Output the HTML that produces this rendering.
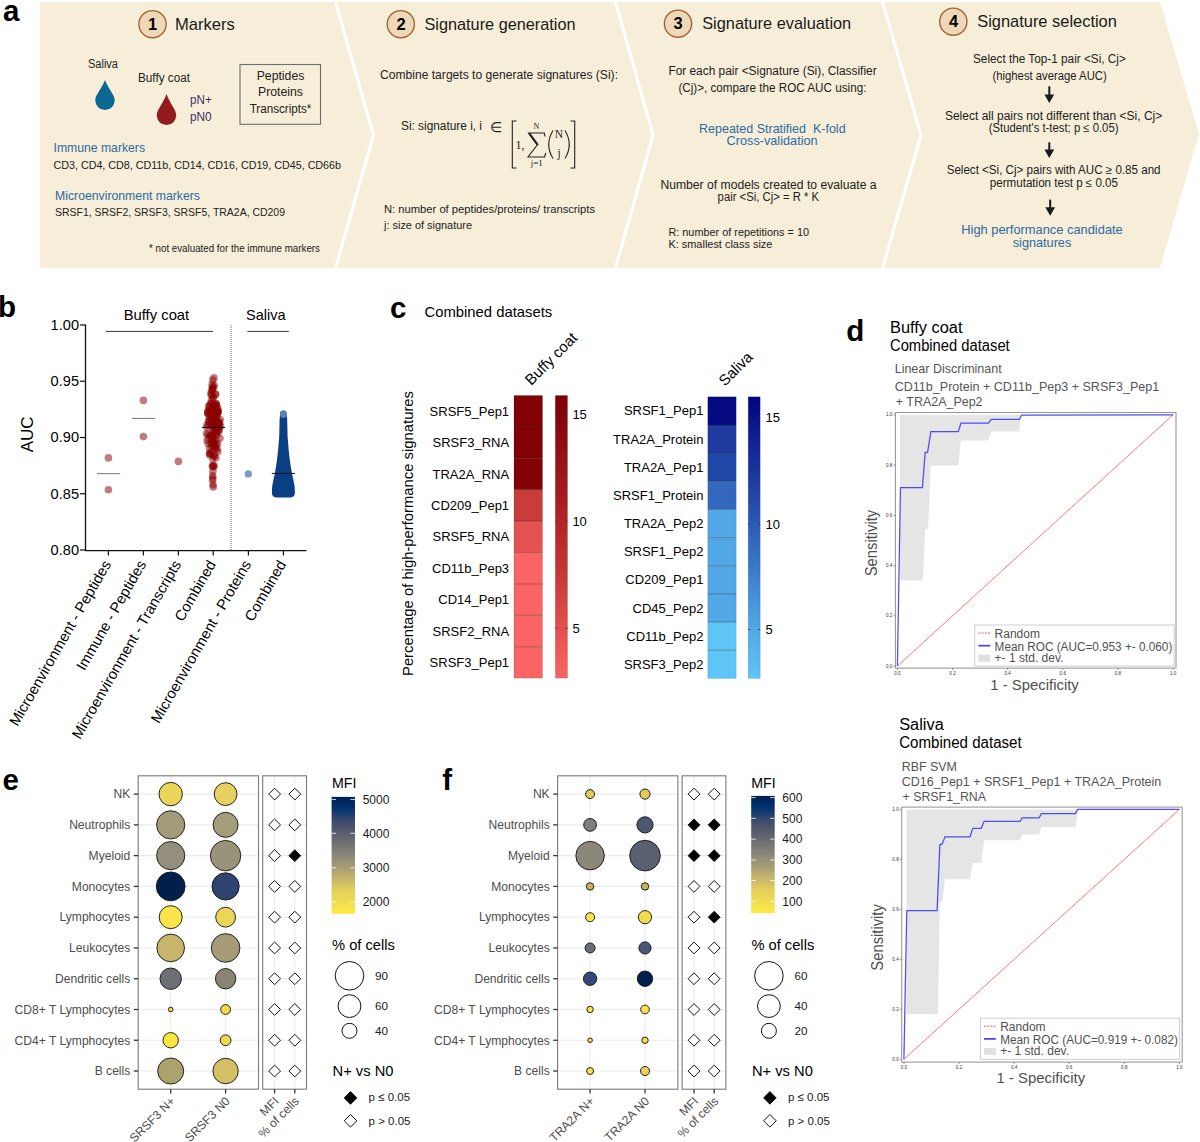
<!DOCTYPE html>
<html><head><meta charset="utf-8"><title>Figure</title>
<style>html,body{margin:0;padding:0;background:#fff;}body{width:1200px;height:1142px;overflow:hidden;}svg{display:block;font-family:"Liberation Sans",sans-serif;}</style>
</head><body>
<svg width="1200" height="1142" viewBox="0 0 1200 1142">
<rect width="1200" height="1142" fill="#fff"/>
<polygon points="40.0,2.0 333.9,2.0 371.9,135.0 333.9,268.0 40.0,268.0" fill="#f6eed8" />
<polygon points="337.1,2.0 613.9,2.0 651.4,135.0 613.9,268.0 337.1,268.0 375.1,135.0" fill="#f6eed8" />
<polygon points="617.1,2.0 880.9,2.0 919.4,135.0 880.9,268.0 617.1,268.0 654.6,135.0" fill="#f6eed8" />
<polygon points="884.1,2.0 1160.0,2.0 1199.0,134.0 1160.0,268.0 884.1,268.0 922.6,135.0" fill="#f6eed8" />
<text x="3.00" y="20.80" font-size="29.5" fill="#000" font-weight="bold" >a</text>
<circle cx="152.5" cy="24.2" r="13.6" fill="#efd8b7" stroke="#a0653a" stroke-width="1.4"/>
<text x="152.70" y="29.60" font-size="16.5" text-anchor="middle" font-weight="bold" >1</text>
<text x="175.00" y="29.70" font-size="16.2" fill="#1a1a1a" textLength="59.9" lengthAdjust="spacingAndGlyphs" >Markers</text>
<circle cx="400.8" cy="24.2" r="13.6" fill="#efd8b7" stroke="#a0653a" stroke-width="1.4"/>
<text x="401.00" y="29.60" font-size="16.5" text-anchor="middle" font-weight="bold" >2</text>
<text x="424.50" y="29.70" font-size="16.2" fill="#1a1a1a" textLength="151.0" lengthAdjust="spacingAndGlyphs" >Signature generation</text>
<circle cx="678.0" cy="23.7" r="13.6" fill="#efd8b7" stroke="#a0653a" stroke-width="1.4"/>
<text x="678.20" y="29.10" font-size="16.5" text-anchor="middle" font-weight="bold" >3</text>
<text x="702.20" y="29.20" font-size="16.2" fill="#1a1a1a" textLength="149.0" lengthAdjust="spacingAndGlyphs" >Signature evaluation</text>
<circle cx="953.3" cy="21.7" r="13.6" fill="#efd8b7" stroke="#a0653a" stroke-width="1.4"/>
<text x="953.50" y="27.10" font-size="16.5" text-anchor="middle" font-weight="bold" >4</text>
<text x="977.20" y="27.00" font-size="16.2" fill="#1a1a1a" textLength="139.7" lengthAdjust="spacingAndGlyphs" >Signature selection</text>
<text x="88.00" y="67.50" font-size="12.48" fill="#222" textLength="30.0" lengthAdjust="spacingAndGlyphs" >Saliva</text>
<text x="138.00" y="82.00" font-size="12.48" fill="#222" textLength="52.0" lengthAdjust="spacingAndGlyphs" >Buffy coat</text>
<path d="M105,80 C108.4125,89.1125 114.75,94.8875 114.75,100.25 A9.75,9.75 0 0 1 95.25,100.25 C95.25,94.8875 101.5875,89.1125 105,80 Z" fill="#0b6893"/>
<path d="M166.5,94 C169.9125,103.5625 176.25,109.8875 176.25,115.25 A9.75,9.75 0 0 1 156.75,115.25 C156.75,109.8875 163.0875,103.5625 166.5,94 Z" fill="#931b1e"/>
<text x="190.00" y="104.30" font-size="12.48" fill="#3a2f6c" textLength="21.7" lengthAdjust="spacingAndGlyphs" >pN+</text>
<text x="190.00" y="121.00" font-size="12.48" fill="#3a2f6c" textLength="21.7" lengthAdjust="spacingAndGlyphs" >pN0</text>
<rect x="240" y="64.5" width="80.5" height="59.8" fill="none" stroke="#6b6e78" stroke-width="1.1"/>
<text x="280.50" y="80.00" font-size="12.27" text-anchor="middle" fill="#222" >Peptides</text>
<text x="280.50" y="96.30" font-size="12.27" text-anchor="middle" fill="#222" >Proteins</text>
<text x="280.50" y="113.00" font-size="12.27" text-anchor="middle" fill="#222" textLength="61.7" lengthAdjust="spacingAndGlyphs" >Transcripts*</text>
<text x="53.50" y="152.00" font-size="12.69" fill="#2d6aa3" textLength="91.5" lengthAdjust="spacingAndGlyphs" >Immune markers</text>
<text x="53.50" y="168.75" font-size="11.44" fill="#222" textLength="287.5" lengthAdjust="spacingAndGlyphs" >CD3, CD4, CD8, CD11b, CD14, CD16, CD19, CD45, CD66b</text>
<text x="55.00" y="199.50" font-size="12.69" fill="#2d6aa3" textLength="145.0" lengthAdjust="spacingAndGlyphs" >Microenvironment markers</text>
<text x="55.00" y="216.00" font-size="11.44" fill="#222" textLength="230.0" lengthAdjust="spacingAndGlyphs" >SRSF1, SRSF2, SRSF3, SRSF5, TRA2A, CD209</text>
<text x="149.00" y="251.70" font-size="10.4" fill="#222" textLength="171.0" lengthAdjust="spacingAndGlyphs" >* not evaluated for the immune markers</text>
<text x="380.00" y="79.20" font-size="12.48" fill="#222" textLength="238.0" lengthAdjust="spacingAndGlyphs" >Combine targets to generate signatures (Si):</text>
<text x="401.00" y="129.80" font-size="12.48" fill="#222" textLength="81.0" lengthAdjust="spacingAndGlyphs" >Si: signature i, i</text>
<text x="490.00" y="131.50" font-size="14.04" fill="#222" >∈</text>
<path d="M516.5,121 h-4.2 v47 h4.2" fill="none" stroke="#222" stroke-width="1.1"/>
<path d="M570.5,121 h4.2 v47 h-4.2" fill="none" stroke="#222" stroke-width="1.1"/>
<text x="515.50" y="148.50" font-size="12" font-family="Liberation Serif" fill="#222" >1,</text>
<path d="M545,136.5 L544.3,133 L528.5,133 L537.2,145 L528,157 L544.5,157 L545.8,152.8" fill="none" stroke="#222" stroke-width="1.1" stroke-linejoin="miter"/>
<path d="M529.3,133.3 L537.9,145" stroke="#222" stroke-width="2"/>
<text x="536.30" y="128.80" font-size="8" font-family="Liberation Serif" text-anchor="middle" fill="#222" >N</text>
<text x="536.80" y="165.50" font-size="9" font-family="Liberation Serif" text-anchor="middle" fill="#222" >j=1</text>
<path d="M553,130.5 Q544.5,144.5 553,158.5" fill="none" stroke="#222" stroke-width="1.1"/>
<path d="M565,130.5 Q573.5,144.5 565,158.5" fill="none" stroke="#222" stroke-width="1.1"/>
<text x="559.00" y="137.60" font-size="11.5" font-family="Liberation Serif" text-anchor="middle" fill="#222" >N</text>
<text x="559.00" y="156.50" font-size="11.5" font-family="Liberation Serif" text-anchor="middle" fill="#222" >j</text>
<text x="384.00" y="212.90" font-size="11.65" fill="#222" textLength="211.0" lengthAdjust="spacingAndGlyphs" >N: number of peptides/proteins/ transcripts</text>
<text x="384.00" y="228.50" font-size="11.65" fill="#222" textLength="88.0" lengthAdjust="spacingAndGlyphs" >j: size of signature</text>
<text x="772.50" y="74.60" font-size="12.27" text-anchor="middle" fill="#222" textLength="208.2" lengthAdjust="spacingAndGlyphs" >For each pair &lt;Signature (Si), Classifier</text>
<text x="772.40" y="92.00" font-size="12.27" text-anchor="middle" fill="#222" textLength="188.0" lengthAdjust="spacingAndGlyphs" >(Cj)&gt;, compare the ROC AUC using:</text>
<text x="772.30" y="132.60" font-size="12.9" text-anchor="middle" fill="#2d6aa3" textLength="146.6" lengthAdjust="spacingAndGlyphs" >Repeated Stratified  K-fold</text>
<text x="772.10" y="145.40" font-size="12.9" text-anchor="middle" fill="#2d6aa3" textLength="91.0" lengthAdjust="spacingAndGlyphs" >Cross-validation</text>
<text x="768.50" y="189.40" font-size="12.48" text-anchor="middle" fill="#222" textLength="216.2" lengthAdjust="spacingAndGlyphs" >Number of models created to evaluate a</text>
<text x="768.30" y="201.40" font-size="12.48" text-anchor="middle" fill="#222" textLength="101.4" lengthAdjust="spacingAndGlyphs" >pair &lt;Si, Cj&gt; = R * K</text>
<text x="668.40" y="236.00" font-size="11.34" fill="#222" textLength="140.6" lengthAdjust="spacingAndGlyphs" >R: number of repetitions = 10</text>
<text x="668.40" y="248.00" font-size="11.34" fill="#222" textLength="104.0" lengthAdjust="spacingAndGlyphs" >K: smallest class size</text>
<text x="1049.40" y="62.50" font-size="12.27" text-anchor="middle" fill="#222" textLength="152.8" lengthAdjust="spacingAndGlyphs" >Select the Top-1 pair &lt;Si, Cj&gt;</text>
<text x="1049.60" y="79.60" font-size="12.27" text-anchor="middle" fill="#222" textLength="114.2" lengthAdjust="spacingAndGlyphs" >(highest average AUC)</text>
<text x="1053.60" y="119.60" font-size="12.27" text-anchor="middle" fill="#222" textLength="217.3" lengthAdjust="spacingAndGlyphs" >Select all pairs not different than &lt;Si, Cj&gt;</text>
<text x="1053.60" y="131.70" font-size="12.27" text-anchor="middle" fill="#222" textLength="129.7" lengthAdjust="spacingAndGlyphs" >(Student's t-test; p ≤ 0.05)</text>
<text x="1053.60" y="174.20" font-size="12.27" text-anchor="middle" fill="#222" textLength="213.9" lengthAdjust="spacingAndGlyphs" >Select &lt;Si, Cj&gt; pairs with AUC ≥ 0.85 and</text>
<text x="1053.90" y="186.70" font-size="12.27" text-anchor="middle" fill="#222" textLength="128.2" lengthAdjust="spacingAndGlyphs" >permutation test p ≤ 0.05</text>
<text x="1042.00" y="233.50" font-size="13.21" text-anchor="middle" fill="#2d6aa3" textLength="161.5" lengthAdjust="spacingAndGlyphs" >High performance candidate</text>
<text x="1042.00" y="246.50" font-size="13.21" text-anchor="middle" fill="#2d6aa3" textLength="58.5" lengthAdjust="spacingAndGlyphs" >signatures</text>
<path d="M1049.3,86.3 V96" stroke="#1a1a1a" stroke-width="2"/>
<path d="M1044.3999999999999,94.5 L1054.2,94.5 L1049.3,103 Z" fill="#1a1a1a"/>
<path d="M1049.3,142.3 V151" stroke="#1a1a1a" stroke-width="2"/>
<path d="M1044.3999999999999,149.5 L1054.2,149.5 L1049.3,158 Z" fill="#1a1a1a"/>
<path d="M1050.2,199.6 V208.8" stroke="#1a1a1a" stroke-width="2"/>
<path d="M1045.3,207.3 L1055.1000000000001,207.3 L1050.2,215.8 Z" fill="#1a1a1a"/>
<text x="-2.00" y="317.00" font-size="29.5" fill="#000" font-weight="bold" >b</text>
<path d="M85.5,324.4 V550.6 H306.5" fill="none" stroke="#111" stroke-width="1.3"/>
<path d="M80,325.00 H85.5" stroke="#111" stroke-width="1.2"/>
<text x="79.00" y="329.90" font-size="14.6" text-anchor="end" >1.00</text>
<path d="M80,381.25 H85.5" stroke="#111" stroke-width="1.2"/>
<text x="79.00" y="386.15" font-size="14.6" text-anchor="end" >0.95</text>
<path d="M80,437.50 H85.5" stroke="#111" stroke-width="1.2"/>
<text x="79.00" y="442.40" font-size="14.6" text-anchor="end" >0.90</text>
<path d="M80,493.75 H85.5" stroke="#111" stroke-width="1.2"/>
<text x="79.00" y="498.65" font-size="14.6" text-anchor="end" >0.85</text>
<path d="M80,550.00 H85.5" stroke="#111" stroke-width="1.2"/>
<text x="79.00" y="554.90" font-size="14.6" text-anchor="end" >0.80</text>
<path d="M108.4,550 V555.5" stroke="#111" stroke-width="1.2"/>
<path d="M143.4,550 V555.5" stroke="#111" stroke-width="1.2"/>
<path d="M178.4,550 V555.5" stroke="#111" stroke-width="1.2"/>
<path d="M213.2,550 V555.5" stroke="#111" stroke-width="1.2"/>
<path d="M248.4,550 V555.5" stroke="#111" stroke-width="1.2"/>
<path d="M283.4,550 V555.5" stroke="#111" stroke-width="1.2"/>
<text x="111.60" y="564.00" font-size="14.8" text-anchor="end" transform="rotate(-60 111.60 564.00)" >Microenvironment - Peptides</text>
<text x="146.60" y="564.00" font-size="14.8" text-anchor="end" transform="rotate(-60 146.60 564.00)" >Immune - Peptides</text>
<text x="181.60" y="564.00" font-size="14.8" text-anchor="end" transform="rotate(-60 181.60 564.00)" >Microenvironment - Transcripts</text>
<text x="216.40" y="564.00" font-size="14.8" text-anchor="end" transform="rotate(-60 216.40 564.00)" >Combined</text>
<text x="251.60" y="564.00" font-size="14.8" text-anchor="end" transform="rotate(-60 251.60 564.00)" >Microenvironment - Proteins</text>
<text x="286.60" y="564.00" font-size="14.8" text-anchor="end" transform="rotate(-60 286.60 564.00)" >Combined</text>
<text x="33.00" y="434.30" font-size="17" text-anchor="middle" transform="rotate(-90 33.00 434.30)" >AUC</text>
<text x="123.70" y="319.60" font-size="14.8" textLength="65.5" lengthAdjust="spacingAndGlyphs" >Buffy coat</text>
<text x="246.00" y="319.60" font-size="14.8" textLength="39.7" lengthAdjust="spacingAndGlyphs" >Saliva</text>
<path d="M106,331.4 H213 M247.4,331.4 H288.8" stroke="#333" stroke-width="1"/>
<path d="M231,325 V550" stroke="#555" stroke-width="0.9" stroke-dasharray="1,1"/>
<circle cx="108.4" cy="457.9" r="3.8" fill="#c27b80"/>
<circle cx="108.4" cy="489.8" r="3.8" fill="#c27b80"/>
<circle cx="143.4" cy="400.4" r="3.8" fill="#c27b80"/>
<circle cx="143.4" cy="436.6" r="3.8" fill="#c27b80"/>
<circle cx="178.4" cy="461.4" r="3.8" fill="#c27b80"/>
<path d="M97,473.7 H120.2 M132,418.4 H155.2" stroke="#777" stroke-width="1"/>
<g fill="#8b0000" fill-opacity="0.5"><circle cx="214.01" cy="377.88" r="3.8"/><circle cx="212.73" cy="380.13" r="3.8"/><circle cx="212.05" cy="384.63" r="3.8"/><circle cx="213.01" cy="484.75" r="3.8"/><circle cx="213.24" cy="487.00" r="3.8"/><circle cx="212.60" cy="480.25" r="3.8"/><circle cx="212.63" cy="475.75" r="3.8"/><circle cx="212.93" cy="471.25" r="3.8"/><circle cx="213.57" cy="466.75" r="3.8"/><circle cx="210.32" cy="453.54" r="3.8"/><circle cx="211.38" cy="419.30" r="3.8"/><circle cx="216.88" cy="406.11" r="3.8"/><circle cx="219.91" cy="438.34" r="3.8"/><circle cx="214.43" cy="455.78" r="3.8"/><circle cx="216.21" cy="428.78" r="3.8"/><circle cx="214.43" cy="417.16" r="3.8"/><circle cx="210.32" cy="403.90" r="3.8"/><circle cx="209.50" cy="453.36" r="3.8"/><circle cx="209.67" cy="455.01" r="3.8"/><circle cx="218.07" cy="412.29" r="3.8"/><circle cx="215.98" cy="417.24" r="3.8"/><circle cx="215.59" cy="394.59" r="3.8"/><circle cx="208.86" cy="406.37" r="3.8"/><circle cx="215.37" cy="429.55" r="3.8"/><circle cx="213.04" cy="433.24" r="3.8"/><circle cx="216.71" cy="433.55" r="3.8"/><circle cx="211.16" cy="444.15" r="3.8"/><circle cx="217.71" cy="451.71" r="3.8"/><circle cx="206.91" cy="425.33" r="3.8"/><circle cx="213.99" cy="424.27" r="3.8"/><circle cx="216.76" cy="434.75" r="3.8"/><circle cx="219.38" cy="428.70" r="3.8"/><circle cx="216.73" cy="421.54" r="3.8"/><circle cx="215.69" cy="412.58" r="3.8"/><circle cx="215.73" cy="403.93" r="3.8"/><circle cx="219.41" cy="422.89" r="3.8"/><circle cx="212.70" cy="465.63" r="3.8"/><circle cx="215.46" cy="412.38" r="3.8"/><circle cx="215.91" cy="457.72" r="3.8"/><circle cx="218.90" cy="431.04" r="3.8"/><circle cx="212.79" cy="458.88" r="3.8"/><circle cx="217.71" cy="427.33" r="3.8"/><circle cx="217.62" cy="444.02" r="3.8"/><circle cx="214.37" cy="422.80" r="3.8"/><circle cx="215.20" cy="428.41" r="3.8"/><circle cx="212.07" cy="409.37" r="3.8"/><circle cx="213.90" cy="455.66" r="3.8"/><circle cx="214.91" cy="433.53" r="3.8"/><circle cx="208.27" cy="413.21" r="3.8"/><circle cx="215.42" cy="429.36" r="3.8"/><circle cx="220.20" cy="419.46" r="3.8"/><circle cx="219.01" cy="425.17" r="3.8"/><circle cx="215.58" cy="448.88" r="3.8"/><circle cx="211.88" cy="415.32" r="3.8"/><circle cx="216.03" cy="444.73" r="3.8"/><circle cx="213.55" cy="387.37" r="3.8"/><circle cx="212.48" cy="438.17" r="3.8"/><circle cx="217.29" cy="412.71" r="3.8"/><circle cx="206.98" cy="427.32" r="3.8"/><circle cx="215.69" cy="407.02" r="3.8"/><circle cx="207.09" cy="440.25" r="3.8"/><circle cx="214.22" cy="406.02" r="3.8"/><circle cx="213.01" cy="430.02" r="3.8"/><circle cx="211.44" cy="400.37" r="3.8"/><circle cx="215.74" cy="414.03" r="3.8"/><circle cx="213.26" cy="424.35" r="3.8"/><circle cx="214.66" cy="444.05" r="3.8"/><circle cx="217.97" cy="410.96" r="3.8"/><circle cx="210.03" cy="417.37" r="3.8"/><circle cx="211.21" cy="392.28" r="3.8"/><circle cx="210.42" cy="435.43" r="3.8"/><circle cx="215.58" cy="415.52" r="3.8"/><circle cx="209.40" cy="416.52" r="3.8"/><circle cx="208.54" cy="421.33" r="3.8"/><circle cx="219.27" cy="422.92" r="3.8"/><circle cx="215.67" cy="423.48" r="3.8"/><circle cx="212.53" cy="440.17" r="3.8"/><circle cx="217.18" cy="449.06" r="3.8"/><circle cx="210.81" cy="435.85" r="3.8"/><circle cx="215.38" cy="414.75" r="3.8"/><circle cx="211.77" cy="395.07" r="3.8"/><circle cx="212.66" cy="406.49" r="3.8"/><circle cx="215.95" cy="404.86" r="3.8"/><circle cx="217.87" cy="410.76" r="3.8"/><circle cx="217.75" cy="412.45" r="3.8"/><circle cx="211.59" cy="423.46" r="3.8"/><circle cx="214.22" cy="410.88" r="3.8"/><circle cx="212.65" cy="389.46" r="3.8"/><circle cx="207.96" cy="434.38" r="3.8"/><circle cx="213.26" cy="442.21" r="3.8"/><circle cx="214.22" cy="385.48" r="3.8"/><circle cx="218.39" cy="422.14" r="3.8"/><circle cx="215.28" cy="406.62" r="3.8"/><circle cx="217.90" cy="408.70" r="3.8"/><circle cx="211.32" cy="451.65" r="3.8"/><circle cx="212.13" cy="389.42" r="3.8"/><circle cx="212.57" cy="423.59" r="3.8"/><circle cx="210.77" cy="411.29" r="3.8"/><circle cx="209.02" cy="424.66" r="3.8"/><circle cx="212.35" cy="446.27" r="3.8"/><circle cx="215.21" cy="429.77" r="3.8"/><circle cx="213.21" cy="419.38" r="3.8"/><circle cx="211.80" cy="403.52" r="3.8"/><circle cx="217.23" cy="412.21" r="3.8"/><circle cx="220.58" cy="426.10" r="3.8"/><circle cx="213.01" cy="398.42" r="3.8"/><circle cx="208.18" cy="443.64" r="3.8"/><circle cx="208.19" cy="410.43" r="3.8"/><circle cx="216.34" cy="403.60" r="3.8"/><circle cx="206.52" cy="433.62" r="3.8"/><circle cx="214.14" cy="465.65" r="3.8"/><circle cx="214.06" cy="446.75" r="3.8"/><circle cx="210.51" cy="422.31" r="3.8"/><circle cx="217.09" cy="416.09" r="3.8"/><circle cx="210.97" cy="394.28" r="3.8"/><circle cx="209.66" cy="448.84" r="3.8"/><circle cx="212.61" cy="427.33" r="3.8"/><circle cx="207.56" cy="413.51" r="3.8"/><circle cx="218.29" cy="430.75" r="3.8"/><circle cx="212.83" cy="478.03" r="3.8"/><circle cx="209.42" cy="410.14" r="3.8"/><circle cx="209.19" cy="405.91" r="3.8"/><circle cx="214.69" cy="446.99" r="3.8"/><circle cx="212.53" cy="436.19" r="3.8"/><circle cx="215.21" cy="422.63" r="3.8"/><circle cx="215.21" cy="414.18" r="3.8"/><circle cx="217.91" cy="424.95" r="3.8"/><circle cx="215.50" cy="394.08" r="3.8"/><circle cx="216.10" cy="429.12" r="3.8"/><circle cx="212.35" cy="387.59" r="3.8"/><circle cx="212.99" cy="442.02" r="3.8"/><circle cx="208.81" cy="437.52" r="3.8"/><circle cx="207.67" cy="411.97" r="3.8"/><circle cx="213.14" cy="396.93" r="3.8"/><circle cx="215.88" cy="413.40" r="3.8"/><circle cx="208.70" cy="420.93" r="3.8"/><circle cx="212.42" cy="466.31" r="3.8"/><circle cx="211.39" cy="442.61" r="3.8"/><circle cx="215.89" cy="440.43" r="3.8"/><circle cx="213.58" cy="438.78" r="3.8"/></g>
<path d="M202,427.5 H225.1" stroke="#111" stroke-width="1"/>
<circle cx="248.3" cy="473.9" r="3.7" fill="#7b9cc4"/>
<path d="M283.4,410.5 L294.60,495.00 L294.90,492.00 L294.60,486.00 L293.40,480.00 L292.00,473.50 L290.70,466.00 L289.70,459.00 L288.70,450.00 L287.60,437.00 L287.20,420.00 L286.80,413.80 Z" fill="none"/>
<path d="M280.09999999999997,413.8 A3.3,3.3 0 0 1 286.7,413.8 L287.20,420.00 L287.60,437.00 L288.70,450.00 L289.70,459.00 L290.70,466.00 L292.00,473.50 L293.40,480.00 L294.60,486.00 L294.90,492.00 L294.60,495.00 Q293.4,497.6 290.4,497.4 L276.4,497.4 Q273.4,497.6 272.20,495.00 L271.90,492.00 L272.20,486.00 L273.40,480.00 L274.80,473.50 L276.10,466.00 L277.10,459.00 L278.10,450.00 L279.20,437.00 L279.60,420.00 Z" fill="#0b3f84"/>
<circle cx="283.4" cy="414.5" r="3.4" fill="#6f92c4" fill-opacity="0.8"/>
<path d="M271.8,473.4 H295" stroke="#111" stroke-width="1"/>
<text x="390.00" y="318.30" font-size="29.5" fill="#000" font-weight="bold" >c</text>
<text x="424.50" y="316.70" font-size="14.8" textLength="127.7" lengthAdjust="spacingAndGlyphs" >Combined datasets</text>
<text x="531.30" y="385.90" font-size="15.2" textLength="66.5" lengthAdjust="spacingAndGlyphs" transform="rotate(-45 531.30 385.90)" >Buffy coat</text>
<text x="725.00" y="386.80" font-size="15.2" textLength="40.5" lengthAdjust="spacingAndGlyphs" transform="rotate(-45 725.00 386.80)" >Saliva</text>
<text x="413.00" y="533.50" font-size="14.8" text-anchor="middle" textLength="285.0" lengthAdjust="spacingAndGlyphs" transform="rotate(-90 413.00 533.50)" >Percentage of high-performance signatures</text>
<rect x="514" y="395.50" width="28.5" height="31.40" fill="#830005"/>
<text x="509.10" y="415.80" font-size="13" text-anchor="end" >SRSF5_Pep1</text>
<rect x="514" y="426.90" width="28.5" height="31.40" fill="#830005"/>
<text x="509.10" y="447.20" font-size="13" text-anchor="end" >SRSF3_RNA</text>
<rect x="514" y="458.30" width="28.5" height="31.40" fill="#830005"/>
<text x="509.10" y="478.60" font-size="13" text-anchor="end" >TRA2A_RNA</text>
<rect x="514" y="489.70" width="28.5" height="31.40" fill="#c83c3a"/>
<text x="509.10" y="510.00" font-size="13" text-anchor="end" >CD209_Pep1</text>
<rect x="514" y="521.10" width="28.5" height="31.40" fill="#e65252"/>
<text x="509.10" y="541.40" font-size="13" text-anchor="end" >SRSF5_RNA</text>
<rect x="514" y="552.50" width="28.5" height="31.40" fill="#fa6464"/>
<text x="509.10" y="572.80" font-size="13" text-anchor="end" >CD11b_Pep3</text>
<rect x="514" y="583.90" width="28.5" height="31.40" fill="#fa6464"/>
<text x="509.10" y="604.20" font-size="13" text-anchor="end" >CD14_Pep1</text>
<rect x="514" y="615.30" width="28.5" height="31.40" fill="#fa6464"/>
<text x="509.10" y="635.60" font-size="13" text-anchor="end" >SRSF2_RNA</text>
<rect x="514" y="646.70" width="28.5" height="31.40" fill="#fa6464"/>
<text x="509.10" y="667.00" font-size="13" text-anchor="end" >SRSF3_Pep1</text>
<g stroke="#000" stroke-opacity="0.3" stroke-width="1"><path d="M514,426.90 H542.5"/><path d="M514,458.30 H542.5"/><path d="M514,489.70 H542.5"/><path d="M514,521.10 H542.5"/><path d="M514,552.50 H542.5"/><path d="M514,583.90 H542.5"/><path d="M514,615.30 H542.5"/><path d="M514,646.70 H542.5"/></g>
<rect x="514" y="395.5" width="28.5" height="282.60" fill="none" stroke="#000" stroke-opacity="0.15" stroke-width="0.8"/>
<defs><linearGradient id="gred" x1="0" y1="0" x2="0" y2="1"><stop offset="0" stop-color="#7a0006"/><stop offset="0.35" stop-color="#a51c1e"/><stop offset="0.6" stop-color="#c43333"/><stop offset="1" stop-color="#f96666"/></linearGradient><linearGradient id="gblue" x1="0" y1="0" x2="0" y2="1"><stop offset="0" stop-color="#03037f"/><stop offset="0.3" stop-color="#1e3ca0"/><stop offset="0.6" stop-color="#3a78c8"/><stop offset="0.8" stop-color="#4ea4e2"/><stop offset="1" stop-color="#5fc5f7"/></linearGradient></defs>
<rect x="555.3" y="395.5" width="12.2" height="282.60" fill="url(#gred)" stroke="#000" stroke-opacity="0.15" stroke-width="0.8"/>
<path d="M555.3,414.5 h2 M567.5,414.5 h-2" stroke="#333" stroke-width="0.8"/>
<text x="572.40" y="419.10" font-size="13" >15</text>
<path d="M555.3,521.4 h2 M567.5,521.4 h-2" stroke="#333" stroke-width="0.8"/>
<text x="572.40" y="526.00" font-size="13" >10</text>
<path d="M555.3,628.4 h2 M567.5,628.4 h-2" stroke="#333" stroke-width="0.8"/>
<text x="572.40" y="633.00" font-size="13" >5</text>
<rect x="707.8" y="396.80" width="28.4" height="28.16" fill="#050a82"/>
<text x="703.40" y="415.48" font-size="13" text-anchor="end" >SRSF1_Pep1</text>
<rect x="707.8" y="424.96" width="28.4" height="28.16" fill="#1e3ca0"/>
<text x="703.40" y="443.64" font-size="13" text-anchor="end" >TRA2A_Protein</text>
<rect x="707.8" y="453.12" width="28.4" height="28.16" fill="#2048a8"/>
<text x="703.40" y="471.80" font-size="13" text-anchor="end" >TRA2A_Pep1</text>
<rect x="707.8" y="481.28" width="28.4" height="28.16" fill="#3269be"/>
<text x="703.40" y="499.96" font-size="13" text-anchor="end" >SRSF1_Protein</text>
<rect x="707.8" y="509.44" width="28.4" height="28.16" fill="#52a8e6"/>
<text x="703.40" y="528.12" font-size="13" text-anchor="end" >TRA2A_Pep2</text>
<rect x="707.8" y="537.60" width="28.4" height="28.16" fill="#52a8e6"/>
<text x="703.40" y="556.28" font-size="13" text-anchor="end" >SRSF1_Pep2</text>
<rect x="707.8" y="565.76" width="28.4" height="28.16" fill="#52a8e6"/>
<text x="703.40" y="584.44" font-size="13" text-anchor="end" >CD209_Pep1</text>
<rect x="707.8" y="593.92" width="28.4" height="28.16" fill="#52a8e6"/>
<text x="703.40" y="612.60" font-size="13" text-anchor="end" >CD45_Pep2</text>
<rect x="707.8" y="622.08" width="28.4" height="28.16" fill="#5fc5f7"/>
<text x="703.40" y="640.76" font-size="13" text-anchor="end" >CD11b_Pep2</text>
<rect x="707.8" y="650.24" width="28.4" height="28.16" fill="#5fc5f7"/>
<text x="703.40" y="668.92" font-size="13" text-anchor="end" >SRSF3_Pep2</text>
<g stroke="#000" stroke-opacity="0.3" stroke-width="1"><path d="M707.8,424.96 H736.2"/><path d="M707.8,453.12 H736.2"/><path d="M707.8,481.28 H736.2"/><path d="M707.8,509.44 H736.2"/><path d="M707.8,537.60 H736.2"/><path d="M707.8,565.76 H736.2"/><path d="M707.8,593.92 H736.2"/><path d="M707.8,622.08 H736.2"/><path d="M707.8,650.24 H736.2"/></g>
<rect x="707.8" y="396.8" width="28.4" height="281.60" fill="none" stroke="#000" stroke-opacity="0.15" stroke-width="0.8"/>
<rect x="748.2" y="396.8" width="12" height="281.60" fill="url(#gblue)" stroke="#000" stroke-opacity="0.15" stroke-width="0.8"/>
<path d="M748.2,417.6 h2 M760.2,417.6 h-2" stroke="#333" stroke-width="0.8"/>
<text x="765.50" y="422.20" font-size="13" >15</text>
<path d="M748.2,523.9 h2 M760.2,523.9 h-2" stroke="#333" stroke-width="0.8"/>
<text x="765.50" y="528.50" font-size="13" >10</text>
<path d="M748.2,629.5 h2 M760.2,629.5 h-2" stroke="#333" stroke-width="0.8"/>
<text x="765.50" y="634.10" font-size="13" >5</text>
<text x="846.30" y="341.00" font-size="29.5" fill="#000" font-weight="bold" >d</text>
<rect x="895.4" y="412.5" width="280.6" height="255.6" fill="#fff" stroke="#9a9a9a" stroke-width="1.1"/>
<polygon points="900.1,415.0 1021.5,415.0 1019.2,431.6 991.2,431.6 988.5,440.5 960.9,440.5 958.4,465.4 930.8,465.4 928.1,528.9 925.2,528.9 922.9,580.6 900.1,580.6" fill="#e5e5e5"/>
<path d="M897.4,666.1 L1173.1,414.8" stroke="#ff6a6a" stroke-width="0.9"/>
<path d="M897.4,666.1 L900.5,487.6 L922.4,487.6 L925.2,452.3 L927.6,452.3 L930.8,431.6 L958.3,431.6 L960.9,423.2 L988.5,423.2 L991.2,419.4 L1019.2,419.4 L1021.8,415.0 L1173.1,414.8" fill="none" stroke="#4d4df4" stroke-width="1.25"/>
<path d="M893.4,666.1 H895.4" stroke="#555" stroke-width="0.6"/>
<text x="892.40" y="667.70" font-size="4.6" text-anchor="end" fill="#333" >0.0</text>
<path d="M897.4,668.1 V670.1" stroke="#555" stroke-width="0.6"/>
<text x="897.40" y="674.80" font-size="4.6" text-anchor="middle" fill="#333" >0.0</text>
<path d="M893.4,615.8 H895.4" stroke="#555" stroke-width="0.6"/>
<text x="892.40" y="617.44" font-size="4.6" text-anchor="end" fill="#333" >0.2</text>
<path d="M952.5,668.1 V670.1" stroke="#555" stroke-width="0.6"/>
<text x="952.54" y="674.80" font-size="4.6" text-anchor="middle" fill="#333" >0.2</text>
<path d="M893.4,565.6 H895.4" stroke="#555" stroke-width="0.6"/>
<text x="892.40" y="567.18" font-size="4.6" text-anchor="end" fill="#333" >0.4</text>
<path d="M1007.7,668.1 V670.1" stroke="#555" stroke-width="0.6"/>
<text x="1007.68" y="674.80" font-size="4.6" text-anchor="middle" fill="#333" >0.4</text>
<path d="M893.4,515.3 H895.4" stroke="#555" stroke-width="0.6"/>
<text x="892.40" y="516.92" font-size="4.6" text-anchor="end" fill="#333" >0.6</text>
<path d="M1062.8,668.1 V670.1" stroke="#555" stroke-width="0.6"/>
<text x="1062.82" y="674.80" font-size="4.6" text-anchor="middle" fill="#333" >0.6</text>
<path d="M893.4,465.1 H895.4" stroke="#555" stroke-width="0.6"/>
<text x="892.40" y="466.66" font-size="4.6" text-anchor="end" fill="#333" >0.8</text>
<path d="M1118.0,668.1 V670.1" stroke="#555" stroke-width="0.6"/>
<text x="1117.96" y="674.80" font-size="4.6" text-anchor="middle" fill="#333" >0.8</text>
<path d="M893.4,414.8 H895.4" stroke="#555" stroke-width="0.6"/>
<text x="892.40" y="416.40" font-size="4.6" text-anchor="end" fill="#333" >1.0</text>
<path d="M1173.1,668.1 V670.1" stroke="#555" stroke-width="0.6"/>
<text x="1173.10" y="674.80" font-size="4.6" text-anchor="middle" fill="#333" >1.0</text>
<rect x="974.8" y="625" width="199.2" height="41.1" fill="#fff" fill-opacity="0.85" stroke="#cfcfcf" stroke-width="1"/>
<path d="M978.4,633 H990.3" stroke="#ff5050" stroke-width="1" stroke-dasharray="2,1.2"/>
<text x="994.60" y="637.60" font-size="12" fill="#505050" >Random</text>
<path d="M978.4,645.7 H990.3" stroke="#4a4af2" stroke-width="1.8"/>
<text x="994.60" y="650.50" font-size="12" fill="#505050" textLength="177.7" lengthAdjust="spacingAndGlyphs" >Mean ROC (AUC=0.953 +- 0.060)</text>
<rect x="978.4" y="654.8" width="11.9" height="7" fill="#e0e0e0"/>
<text x="994.60" y="661.80" font-size="12" fill="#505050" >+- 1 std. dev.</text>
<text x="877.30" y="543.00" font-size="15.6" text-anchor="middle" fill="#505050" textLength="66.5" lengthAdjust="spacingAndGlyphs" transform="rotate(-90 877.30 543.00)" >Sensitivity</text>
<text x="990.30" y="689.60" font-size="14.9" fill="#505050" textLength="88.5" lengthAdjust="spacingAndGlyphs" >1 - Specificity</text>
<text x="890.00" y="333.30" font-size="16" textLength="72.5" lengthAdjust="spacingAndGlyphs" >Buffy coat</text>
<text x="890.00" y="350.50" font-size="16" textLength="119.7" lengthAdjust="spacingAndGlyphs" >Combined dataset</text>
<text x="894.70" y="373.30" font-size="12.4" fill="#555" textLength="107.0" lengthAdjust="spacingAndGlyphs" >Linear Discriminant</text>
<text x="894.70" y="391.20" font-size="12.4" fill="#555" textLength="264.5" lengthAdjust="spacingAndGlyphs" >CD11b_Protein + CD11b_Pep3 + SRSF3_Pep1</text>
<text x="895.80" y="405.80" font-size="12.4" fill="#555" textLength="86.7" lengthAdjust="spacingAndGlyphs" >+ TRA2A_Pep2</text>
<rect x="901.7" y="807.1" width="280.5" height="255.0" fill="#fff" stroke="#9a9a9a" stroke-width="1.1"/>
<polygon points="906.5,809.4 1078.0,809.4 1075.4,826.9 1041.4,826.9 1039.1,834.6 1022.1,834.6 1020.1,840.2 984.1,840.2 981.3,862.9 972.8,862.9 970.0,879.3 945.0,879.3 942.2,902.6 939.9,902.6 937.9,1014.0 906.5,1014.0" fill="#e5e5e5"/>
<path d="M903.9,1059.3 L1179.4,809.4" stroke="#ff6a6a" stroke-width="0.9"/>
<path d="M903.9,1059.3 L906.8,910.6 L937.1,910.6 L939.9,844.8 L942.2,843.9 L945.0,836.8 L970.0,836.8 L972.8,828.3 L981.3,828.3 L984.1,821.3 L1020.1,821.3 L1022.1,817.9 L1039.1,817.9 L1041.4,813.6 L1075.4,813.6 L1077.6,809.4 L1179.4,809.4" fill="none" stroke="#4d4df4" stroke-width="1.25"/>
<path d="M899.7,1059.3 H901.7" stroke="#555" stroke-width="0.6"/>
<text x="898.70" y="1060.90" font-size="4.6" text-anchor="end" fill="#333" >0.0</text>
<path d="M903.9,1062.1 V1064.1" stroke="#555" stroke-width="0.6"/>
<text x="903.90" y="1068.80" font-size="4.6" text-anchor="middle" fill="#333" >0.0</text>
<path d="M899.7,1009.3 H901.7" stroke="#555" stroke-width="0.6"/>
<text x="898.70" y="1010.92" font-size="4.6" text-anchor="end" fill="#333" >0.2</text>
<path d="M959.0,1062.1 V1064.1" stroke="#555" stroke-width="0.6"/>
<text x="959.00" y="1068.80" font-size="4.6" text-anchor="middle" fill="#333" >0.2</text>
<path d="M899.7,959.3 H901.7" stroke="#555" stroke-width="0.6"/>
<text x="898.70" y="960.94" font-size="4.6" text-anchor="end" fill="#333" >0.4</text>
<path d="M1014.1,1062.1 V1064.1" stroke="#555" stroke-width="0.6"/>
<text x="1014.10" y="1068.80" font-size="4.6" text-anchor="middle" fill="#333" >0.4</text>
<path d="M899.7,909.4 H901.7" stroke="#555" stroke-width="0.6"/>
<text x="898.70" y="910.96" font-size="4.6" text-anchor="end" fill="#333" >0.6</text>
<path d="M1069.2,1062.1 V1064.1" stroke="#555" stroke-width="0.6"/>
<text x="1069.20" y="1068.80" font-size="4.6" text-anchor="middle" fill="#333" >0.6</text>
<path d="M899.7,859.4 H901.7" stroke="#555" stroke-width="0.6"/>
<text x="898.70" y="860.98" font-size="4.6" text-anchor="end" fill="#333" >0.8</text>
<path d="M1124.3,1062.1 V1064.1" stroke="#555" stroke-width="0.6"/>
<text x="1124.30" y="1068.80" font-size="4.6" text-anchor="middle" fill="#333" >0.8</text>
<path d="M899.7,809.4 H901.7" stroke="#555" stroke-width="0.6"/>
<text x="898.70" y="811.00" font-size="4.6" text-anchor="end" fill="#333" >1.0</text>
<path d="M1179.4,1062.1 V1064.1" stroke="#555" stroke-width="0.6"/>
<text x="1179.40" y="1068.80" font-size="4.6" text-anchor="middle" fill="#333" >1.0</text>
<rect x="980.4" y="1018.2" width="199.2" height="41.1" fill="#fff" fill-opacity="0.85" stroke="#cfcfcf" stroke-width="1"/>
<path d="M984.0,1026.2 H995.9" stroke="#ff5050" stroke-width="1" stroke-dasharray="2,1.2"/>
<text x="1000.20" y="1030.80" font-size="12" fill="#505050" >Random</text>
<path d="M984.0,1038.9 H995.9" stroke="#4a4af2" stroke-width="1.8"/>
<text x="1000.20" y="1043.70" font-size="12" fill="#505050" textLength="177.7" lengthAdjust="spacingAndGlyphs" >Mean ROC (AUC=0.919 +- 0.082)</text>
<rect x="984.0" y="1048.0" width="11.9" height="7" fill="#e0e0e0"/>
<text x="1000.20" y="1055.00" font-size="12" fill="#505050" >+- 1 std. dev.</text>
<text x="883.50" y="937.40" font-size="15.6" text-anchor="middle" fill="#505050" textLength="66.5" lengthAdjust="spacingAndGlyphs" transform="rotate(-90 883.50 937.40)" >Sensitivity</text>
<text x="996.60" y="1083.40" font-size="14.9" fill="#505050" textLength="88.5" lengthAdjust="spacingAndGlyphs" >1 - Specificity</text>
<text x="899.20" y="730.00" font-size="16" textLength="44.6" lengthAdjust="spacingAndGlyphs" >Saliva</text>
<text x="899.20" y="748.00" font-size="16" textLength="122.5" lengthAdjust="spacingAndGlyphs" >Combined dataset</text>
<text x="901.70" y="770.80" font-size="12.4" fill="#555" textLength="55.3" lengthAdjust="spacingAndGlyphs" >RBF SVM</text>
<text x="901.70" y="786.30" font-size="12.4" fill="#555" textLength="259.6" lengthAdjust="spacingAndGlyphs" >CD16_Pep1 + SRSF1_Pep1 + TRA2A_Protein</text>
<text x="902.50" y="800.50" font-size="12.4" fill="#555" textLength="83.5" lengthAdjust="spacingAndGlyphs" >+ SRSF1_RNA</text>
<defs><linearGradient id="civ" x1="0" y1="0" x2="0" y2="1"><stop offset="0" stop-color="#00204D"/><stop offset="0.1" stop-color="#00336F"/><stop offset="0.2" stop-color="#39486B"/><stop offset="0.3" stop-color="#575C6D"/><stop offset="0.4" stop-color="#707173"/><stop offset="0.5" stop-color="#8A8779"/><stop offset="0.6" stop-color="#A69D75"/><stop offset="0.7" stop-color="#C4B56C"/><stop offset="0.8" stop-color="#E4CF5B"/><stop offset="1" stop-color="#FFEA46"/></linearGradient></defs>
<text x="2.50" y="789.80" font-size="29.5" fill="#000" font-weight="bold" >e</text>
<rect x="138.2" y="775.8" width="120.3" height="313.4" fill="#fff"/>
<rect x="262.7" y="775.8" width="43.8" height="313.4" fill="#fff"/>
<g stroke="#ebebeb" stroke-width="1.1"><path d="M138.2,794.10 H258.5 M262.7,794.10 H306.5"/><path d="M138.2,824.87 H258.5 M262.7,824.87 H306.5"/><path d="M138.2,855.64 H258.5 M262.7,855.64 H306.5"/><path d="M138.2,886.41 H258.5 M262.7,886.41 H306.5"/><path d="M138.2,917.18 H258.5 M262.7,917.18 H306.5"/><path d="M138.2,947.95 H258.5 M262.7,947.95 H306.5"/><path d="M138.2,978.72 H258.5 M262.7,978.72 H306.5"/><path d="M138.2,1009.49 H258.5 M262.7,1009.49 H306.5"/><path d="M138.2,1040.26 H258.5 M262.7,1040.26 H306.5"/><path d="M138.2,1071.03 H258.5 M262.7,1071.03 H306.5"/><path d="M170.7,775.8 V1089.2"/><path d="M225.6,775.8 V1089.2"/><path d="M274.6,775.8 V1089.2"/><path d="M294.8,775.8 V1089.2"/></g>
<rect x="138.2" y="775.8" width="120.3" height="313.4" fill="none" stroke="#7a7a7a" stroke-width="1.1"/>
<rect x="262.7" y="775.8" width="43.8" height="313.4" fill="none" stroke="#7a7a7a" stroke-width="1.1"/>
<path d="M133.8,794.10 H138.2" stroke="#333" stroke-width="1.3"/>
<text x="130.30" y="798.40" font-size="12.1" text-anchor="end" fill="#4d4d4d" >NK</text>
<circle cx="170.7" cy="794.10" r="11.7" fill="#ead55a" stroke="#1a1a1a" stroke-width="0.95"/>
<circle cx="225.6" cy="794.10" r="11.4" fill="#e5d060" stroke="#1a1a1a" stroke-width="0.95"/>
<path d="M274.60,788.20 L280.50,794.10 L274.60,800.00 L268.70,794.10 Z" fill="#fff" stroke="#111" stroke-width="1"/>
<path d="M294.80,788.20 L300.70,794.10 L294.80,800.00 L288.90,794.10 Z" fill="#fff" stroke="#111" stroke-width="1"/>
<path d="M133.8,824.87 H138.2" stroke="#333" stroke-width="1.3"/>
<text x="130.30" y="829.17" font-size="12.1" text-anchor="end" fill="#4d4d4d" >Neutrophils</text>
<circle cx="170.7" cy="824.87" r="14.1" fill="#a39b78" stroke="#1a1a1a" stroke-width="0.95"/>
<circle cx="225.6" cy="824.87" r="12.5" fill="#a59d7a" stroke="#1a1a1a" stroke-width="0.95"/>
<path d="M274.60,818.97 L280.50,824.87 L274.60,830.77 L268.70,824.87 Z" fill="#fff" stroke="#111" stroke-width="1"/>
<path d="M294.80,818.97 L300.70,824.87 L294.80,830.77 L288.90,824.87 Z" fill="#fff" stroke="#111" stroke-width="1"/>
<path d="M133.8,855.64 H138.2" stroke="#333" stroke-width="1.3"/>
<text x="130.30" y="859.94" font-size="12.1" text-anchor="end" fill="#4d4d4d" >Myeloid</text>
<circle cx="170.7" cy="855.64" r="14.1" fill="#948f7a" stroke="#1a1a1a" stroke-width="0.95"/>
<circle cx="225.6" cy="855.64" r="15.2" fill="#989379" stroke="#1a1a1a" stroke-width="0.95"/>
<path d="M274.60,849.74 L280.50,855.64 L274.60,861.54 L268.70,855.64 Z" fill="#fff" stroke="#111" stroke-width="1"/>
<path d="M294.80,849.74 L300.70,855.64 L294.80,861.54 L288.90,855.64 Z" fill="#000" stroke="#111" stroke-width="1"/>
<path d="M133.8,886.41 H138.2" stroke="#333" stroke-width="1.3"/>
<text x="130.30" y="890.71" font-size="12.1" text-anchor="end" fill="#4d4d4d" >Monocytes</text>
<circle cx="170.7" cy="886.41" r="14.4" fill="#00204c" stroke="#1a1a1a" stroke-width="0.95"/>
<circle cx="225.6" cy="886.41" r="13.6" fill="#2f4370" stroke="#1a1a1a" stroke-width="0.95"/>
<path d="M274.60,880.51 L280.50,886.41 L274.60,892.31 L268.70,886.41 Z" fill="#fff" stroke="#111" stroke-width="1"/>
<path d="M294.80,880.51 L300.70,886.41 L294.80,892.31 L288.90,886.41 Z" fill="#fff" stroke="#111" stroke-width="1"/>
<path d="M133.8,917.18 H138.2" stroke="#333" stroke-width="1.3"/>
<text x="130.30" y="921.48" font-size="12.1" text-anchor="end" fill="#4d4d4d" >Lymphocytes</text>
<circle cx="170.7" cy="917.18" r="11.5" fill="#f9e54a" stroke="#1a1a1a" stroke-width="0.95"/>
<circle cx="225.6" cy="917.18" r="9.9" fill="#ecd657" stroke="#1a1a1a" stroke-width="0.95"/>
<path d="M274.60,911.28 L280.50,917.18 L274.60,923.08 L268.70,917.18 Z" fill="#fff" stroke="#111" stroke-width="1"/>
<path d="M294.80,911.28 L300.70,917.18 L294.80,923.08 L288.90,917.18 Z" fill="#fff" stroke="#111" stroke-width="1"/>
<path d="M133.8,947.95 H138.2" stroke="#333" stroke-width="1.3"/>
<text x="130.30" y="952.25" font-size="12.1" text-anchor="end" fill="#4d4d4d" >Leukocytes</text>
<circle cx="170.7" cy="947.95" r="13.8" fill="#c6b56a" stroke="#1a1a1a" stroke-width="0.95"/>
<circle cx="225.6" cy="947.95" r="14.3" fill="#a59c77" stroke="#1a1a1a" stroke-width="0.95"/>
<path d="M274.60,942.05 L280.50,947.95 L274.60,953.85 L268.70,947.95 Z" fill="#fff" stroke="#111" stroke-width="1"/>
<path d="M294.80,942.05 L300.70,947.95 L294.80,953.85 L288.90,947.95 Z" fill="#fff" stroke="#111" stroke-width="1"/>
<path d="M133.8,978.72 H138.2" stroke="#333" stroke-width="1.3"/>
<text x="130.30" y="983.02" font-size="12.1" text-anchor="end" fill="#4d4d4d" >Dendritic cells</text>
<circle cx="170.7" cy="978.72" r="10.7" fill="#6d6f74" stroke="#1a1a1a" stroke-width="0.95"/>
<circle cx="225.6" cy="978.72" r="10.2" fill="#8a8573" stroke="#1a1a1a" stroke-width="0.95"/>
<path d="M274.60,972.82 L280.50,978.72 L274.60,984.62 L268.70,978.72 Z" fill="#fff" stroke="#111" stroke-width="1"/>
<path d="M294.80,972.82 L300.70,978.72 L294.80,984.62 L288.90,978.72 Z" fill="#fff" stroke="#111" stroke-width="1"/>
<path d="M133.8,1009.49 H138.2" stroke="#333" stroke-width="1.3"/>
<text x="130.30" y="1013.79" font-size="12.1" text-anchor="end" fill="#4d4d4d" >CD8+ T Lymphocytes</text>
<circle cx="170.7" cy="1009.49" r="2.3" fill="#f0d84a" stroke="#1a1a1a" stroke-width="0.95"/>
<circle cx="225.6" cy="1009.49" r="4.9" fill="#f5db48" stroke="#1a1a1a" stroke-width="0.95"/>
<path d="M274.60,1003.59 L280.50,1009.49 L274.60,1015.39 L268.70,1009.49 Z" fill="#fff" stroke="#111" stroke-width="1"/>
<path d="M294.80,1003.59 L300.70,1009.49 L294.80,1015.39 L288.90,1009.49 Z" fill="#fff" stroke="#111" stroke-width="1"/>
<path d="M133.8,1040.26 H138.2" stroke="#333" stroke-width="1.3"/>
<text x="130.30" y="1044.56" font-size="12.1" text-anchor="end" fill="#4d4d4d" >CD4+ T Lymphocytes</text>
<circle cx="170.7" cy="1040.26" r="7.7" fill="#fce63e" stroke="#1a1a1a" stroke-width="0.95"/>
<circle cx="225.6" cy="1040.26" r="5.4" fill="#f2d84e" stroke="#1a1a1a" stroke-width="0.95"/>
<path d="M274.60,1034.36 L280.50,1040.26 L274.60,1046.16 L268.70,1040.26 Z" fill="#fff" stroke="#111" stroke-width="1"/>
<path d="M294.80,1034.36 L300.70,1040.26 L294.80,1046.16 L288.90,1040.26 Z" fill="#fff" stroke="#111" stroke-width="1"/>
<path d="M133.8,1071.03 H138.2" stroke="#333" stroke-width="1.3"/>
<text x="130.30" y="1075.33" font-size="12.1" text-anchor="end" fill="#4d4d4d" >B cells</text>
<circle cx="170.7" cy="1071.03" r="13.0" fill="#aca26e" stroke="#1a1a1a" stroke-width="0.95"/>
<circle cx="225.6" cy="1071.03" r="12.7" fill="#d4c064" stroke="#1a1a1a" stroke-width="0.95"/>
<path d="M274.60,1065.13 L280.50,1071.03 L274.60,1076.93 L268.70,1071.03 Z" fill="#fff" stroke="#111" stroke-width="1"/>
<path d="M294.80,1065.13 L300.70,1071.03 L294.80,1076.93 L288.90,1071.03 Z" fill="#fff" stroke="#111" stroke-width="1"/>
<path d="M170.7,1089.2 V1093.5" stroke="#333" stroke-width="1.3"/>
<path d="M225.6,1089.2 V1093.5" stroke="#333" stroke-width="1.3"/>
<path d="M274.6,1089.2 V1093.5" stroke="#333" stroke-width="1.3"/>
<path d="M294.8,1089.2 V1093.5" stroke="#333" stroke-width="1.3"/>
<text x="175.70" y="1101.90" font-size="12.1" text-anchor="end" fill="#4d4d4d" transform="rotate(-45 175.70 1101.90)" >SRSF3 N+</text>
<text x="230.60" y="1101.90" font-size="12.1" text-anchor="end" fill="#4d4d4d" transform="rotate(-45 230.60 1101.90)" >SRSF3 N0</text>
<text x="279.60" y="1101.90" font-size="12.1" text-anchor="end" fill="#4d4d4d" transform="rotate(-45 279.60 1101.90)" >MFI</text>
<text x="299.80" y="1101.90" font-size="12.1" text-anchor="end" fill="#4d4d4d" transform="rotate(-45 299.80 1101.90)" >% of cells</text>
<text x="331.90" y="787.90" font-size="14.2" >MFI</text>
<rect x="331.6" y="796.9" width="23.4" height="117.0" fill="url(#civ)"/>
<path d="M331.6,799.4 h4.5 M355,799.4 h-4.5" stroke="#fff" stroke-opacity="0.8" stroke-width="1"/>
<text x="362.70" y="803.60" font-size="12" fill="#1a1a1a" >5000</text>
<path d="M331.6,833.3 h4.5 M355,833.3 h-4.5" stroke="#fff" stroke-opacity="0.8" stroke-width="1"/>
<text x="362.70" y="837.50" font-size="12" fill="#1a1a1a" >4000</text>
<path d="M331.6,867.8 h4.5 M355,867.8 h-4.5" stroke="#fff" stroke-opacity="0.8" stroke-width="1"/>
<text x="362.70" y="872.00" font-size="12" fill="#1a1a1a" >3000</text>
<path d="M331.6,902.1 h4.5 M355,902.1 h-4.5" stroke="#fff" stroke-opacity="0.8" stroke-width="1"/>
<text x="362.70" y="906.30" font-size="12" fill="#1a1a1a" >2000</text>
<text x="332.00" y="950.10" font-size="14.7" >% of cells</text>
<circle cx="349.5" cy="975.8" r="14.3" fill="#fff" stroke="#111" stroke-width="1"/>
<text x="375.00" y="979.70" font-size="11.7" fill="#1a1a1a" >90</text>
<circle cx="349.5" cy="1006.1" r="11.4" fill="#fff" stroke="#111" stroke-width="1"/>
<text x="375.00" y="1010.40" font-size="11.7" fill="#1a1a1a" >60</text>
<circle cx="349.5" cy="1030.8" r="7.5" fill="#fff" stroke="#111" stroke-width="1"/>
<text x="375.00" y="1035.10" font-size="11.7" fill="#1a1a1a" >40</text>
<text x="332.60" y="1076.10" font-size="14.7" >N+ vs N0</text>
<path d="M350.50,1091.60 L356.80,1097.90 L350.50,1104.20 L344.20,1097.90 Z" fill="#000" stroke="#111" stroke-width="1"/>
<path d="M350.50,1114.50 L356.80,1120.80 L350.50,1127.10 L344.20,1120.80 Z" fill="#fff" stroke="#111" stroke-width="1"/>
<text x="368.60" y="1101.20" font-size="11.5" fill="#1a1a1a" >p ≤ 0.05</text>
<text x="368.60" y="1124.50" font-size="11.5" fill="#1a1a1a" >p &gt; 0.05</text>
<text x="442.30" y="789.80" font-size="29.5" fill="#000" font-weight="bold" >f</text>
<rect x="557.5999999999999" y="775.8" width="120.3" height="313.4" fill="#fff"/>
<rect x="682.0999999999999" y="775.8" width="43.8" height="313.4" fill="#fff"/>
<g stroke="#ebebeb" stroke-width="1.1"><path d="M557.5999999999999,794.10 H677.9 M682.0999999999999,794.10 H725.9"/><path d="M557.5999999999999,824.87 H677.9 M682.0999999999999,824.87 H725.9"/><path d="M557.5999999999999,855.64 H677.9 M682.0999999999999,855.64 H725.9"/><path d="M557.5999999999999,886.41 H677.9 M682.0999999999999,886.41 H725.9"/><path d="M557.5999999999999,917.18 H677.9 M682.0999999999999,917.18 H725.9"/><path d="M557.5999999999999,947.95 H677.9 M682.0999999999999,947.95 H725.9"/><path d="M557.5999999999999,978.72 H677.9 M682.0999999999999,978.72 H725.9"/><path d="M557.5999999999999,1009.49 H677.9 M682.0999999999999,1009.49 H725.9"/><path d="M557.5999999999999,1040.26 H677.9 M682.0999999999999,1040.26 H725.9"/><path d="M557.5999999999999,1071.03 H677.9 M682.0999999999999,1071.03 H725.9"/><path d="M590.0999999999999,775.8 V1089.2"/><path d="M645.0,775.8 V1089.2"/><path d="M694.0,775.8 V1089.2"/><path d="M714.2,775.8 V1089.2"/></g>
<rect x="557.5999999999999" y="775.8" width="120.3" height="313.4" fill="none" stroke="#7a7a7a" stroke-width="1.1"/>
<rect x="682.0999999999999" y="775.8" width="43.8" height="313.4" fill="none" stroke="#7a7a7a" stroke-width="1.1"/>
<path d="M553.2,794.10 H557.5999999999999" stroke="#333" stroke-width="1.3"/>
<text x="549.70" y="798.40" font-size="12.1" text-anchor="end" fill="#4d4d4d" >NK</text>
<circle cx="590.0999999999999" cy="794.10" r="4.5" fill="#e0c85c" stroke="#1a1a1a" stroke-width="0.95"/>
<circle cx="645.0" cy="794.10" r="5.1" fill="#e2c95a" stroke="#1a1a1a" stroke-width="0.95"/>
<path d="M694.00,788.20 L699.90,794.10 L694.00,800.00 L688.10,794.10 Z" fill="#fff" stroke="#111" stroke-width="1"/>
<path d="M714.20,788.20 L720.10,794.10 L714.20,800.00 L708.30,794.10 Z" fill="#fff" stroke="#111" stroke-width="1"/>
<path d="M553.2,824.87 H557.5999999999999" stroke="#333" stroke-width="1.3"/>
<text x="549.70" y="829.17" font-size="12.1" text-anchor="end" fill="#4d4d4d" >Neutrophils</text>
<circle cx="590.0999999999999" cy="824.87" r="6.4" fill="#7f7e7a" stroke="#1a1a1a" stroke-width="0.95"/>
<circle cx="645.0" cy="824.87" r="8.1" fill="#4d5670" stroke="#1a1a1a" stroke-width="0.95"/>
<path d="M694.00,818.97 L699.90,824.87 L694.00,830.77 L688.10,824.87 Z" fill="#000" stroke="#111" stroke-width="1"/>
<path d="M714.20,818.97 L720.10,824.87 L714.20,830.77 L708.30,824.87 Z" fill="#000" stroke="#111" stroke-width="1"/>
<path d="M553.2,855.64 H557.5999999999999" stroke="#333" stroke-width="1.3"/>
<text x="549.70" y="859.94" font-size="12.1" text-anchor="end" fill="#4d4d4d" >Myeloid</text>
<circle cx="590.0999999999999" cy="855.64" r="14.25" fill="#8b8879" stroke="#1a1a1a" stroke-width="0.95"/>
<circle cx="645.0" cy="855.64" r="15.3" fill="#5b6070" stroke="#1a1a1a" stroke-width="0.95"/>
<path d="M694.00,849.74 L699.90,855.64 L694.00,861.54 L688.10,855.64 Z" fill="#000" stroke="#111" stroke-width="1"/>
<path d="M714.20,849.74 L720.10,855.64 L714.20,861.54 L708.30,855.64 Z" fill="#000" stroke="#111" stroke-width="1"/>
<path d="M553.2,886.41 H557.5999999999999" stroke="#333" stroke-width="1.3"/>
<text x="549.70" y="890.71" font-size="12.1" text-anchor="end" fill="#4d4d4d" >Monocytes</text>
<circle cx="590.0999999999999" cy="886.41" r="3.75" fill="#c8b262" stroke="#1a1a1a" stroke-width="0.95"/>
<circle cx="645.0" cy="886.41" r="3.75" fill="#c6b265" stroke="#1a1a1a" stroke-width="0.95"/>
<path d="M694.00,880.51 L699.90,886.41 L694.00,892.31 L688.10,886.41 Z" fill="#fff" stroke="#111" stroke-width="1"/>
<path d="M714.20,880.51 L720.10,886.41 L714.20,892.31 L708.30,886.41 Z" fill="#fff" stroke="#111" stroke-width="1"/>
<path d="M553.2,917.18 H557.5999999999999" stroke="#333" stroke-width="1.3"/>
<text x="549.70" y="921.48" font-size="12.1" text-anchor="end" fill="#4d4d4d" >Lymphocytes</text>
<circle cx="590.0999999999999" cy="917.18" r="4.5" fill="#f9e545" stroke="#1a1a1a" stroke-width="0.95"/>
<circle cx="645.0" cy="917.18" r="6.6" fill="#f3dc4b" stroke="#1a1a1a" stroke-width="0.95"/>
<path d="M694.00,911.28 L699.90,917.18 L694.00,923.08 L688.10,917.18 Z" fill="#fff" stroke="#111" stroke-width="1"/>
<path d="M714.20,911.28 L720.10,917.18 L714.20,923.08 L708.30,917.18 Z" fill="#000" stroke="#111" stroke-width="1"/>
<path d="M553.2,947.95 H557.5999999999999" stroke="#333" stroke-width="1.3"/>
<text x="549.70" y="952.25" font-size="12.1" text-anchor="end" fill="#4d4d4d" >Leukocytes</text>
<circle cx="590.0999999999999" cy="947.95" r="5.0" fill="#6a6d72" stroke="#1a1a1a" stroke-width="0.95"/>
<circle cx="645.0" cy="947.95" r="6.1" fill="#4a5575" stroke="#1a1a1a" stroke-width="0.95"/>
<path d="M694.00,942.05 L699.90,947.95 L694.00,953.85 L688.10,947.95 Z" fill="#fff" stroke="#111" stroke-width="1"/>
<path d="M714.20,942.05 L720.10,947.95 L714.20,953.85 L708.30,947.95 Z" fill="#fff" stroke="#111" stroke-width="1"/>
<path d="M553.2,978.72 H557.5999999999999" stroke="#333" stroke-width="1.3"/>
<text x="549.70" y="983.02" font-size="12.1" text-anchor="end" fill="#4d4d4d" >Dendritic cells</text>
<circle cx="590.0999999999999" cy="978.72" r="6.7" fill="#344878" stroke="#1a1a1a" stroke-width="0.95"/>
<circle cx="645.0" cy="978.72" r="7.7" fill="#00204c" stroke="#1a1a1a" stroke-width="0.95"/>
<path d="M694.00,972.82 L699.90,978.72 L694.00,984.62 L688.10,978.72 Z" fill="#fff" stroke="#111" stroke-width="1"/>
<path d="M714.20,972.82 L720.10,978.72 L714.20,984.62 L708.30,978.72 Z" fill="#fff" stroke="#111" stroke-width="1"/>
<path d="M553.2,1009.49 H557.5999999999999" stroke="#333" stroke-width="1.3"/>
<text x="549.70" y="1013.79" font-size="12.1" text-anchor="end" fill="#4d4d4d" >CD8+ T Lymphocytes</text>
<circle cx="590.0999999999999" cy="1009.49" r="3.2" fill="#f9e545" stroke="#1a1a1a" stroke-width="0.95"/>
<circle cx="645.0" cy="1009.49" r="4.35" fill="#f7e14b" stroke="#1a1a1a" stroke-width="0.95"/>
<path d="M694.00,1003.59 L699.90,1009.49 L694.00,1015.39 L688.10,1009.49 Z" fill="#fff" stroke="#111" stroke-width="1"/>
<path d="M714.20,1003.59 L720.10,1009.49 L714.20,1015.39 L708.30,1009.49 Z" fill="#fff" stroke="#111" stroke-width="1"/>
<path d="M553.2,1040.26 H557.5999999999999" stroke="#333" stroke-width="1.3"/>
<text x="549.70" y="1044.56" font-size="12.1" text-anchor="end" fill="#4d4d4d" >CD4+ T Lymphocytes</text>
<circle cx="590.0999999999999" cy="1040.26" r="2.3" fill="#f0d94c" stroke="#1a1a1a" stroke-width="0.95"/>
<circle cx="645.0" cy="1040.26" r="3.2" fill="#f5dc48" stroke="#1a1a1a" stroke-width="0.95"/>
<path d="M694.00,1034.36 L699.90,1040.26 L694.00,1046.16 L688.10,1040.26 Z" fill="#fff" stroke="#111" stroke-width="1"/>
<path d="M714.20,1034.36 L720.10,1040.26 L714.20,1046.16 L708.30,1040.26 Z" fill="#fff" stroke="#111" stroke-width="1"/>
<path d="M553.2,1071.03 H557.5999999999999" stroke="#333" stroke-width="1.3"/>
<text x="549.70" y="1075.33" font-size="12.1" text-anchor="end" fill="#4d4d4d" >B cells</text>
<circle cx="590.0999999999999" cy="1071.03" r="3.5" fill="#f5df4a" stroke="#1a1a1a" stroke-width="0.95"/>
<circle cx="645.0" cy="1071.03" r="4.55" fill="#e7cf59" stroke="#1a1a1a" stroke-width="0.95"/>
<path d="M694.00,1065.13 L699.90,1071.03 L694.00,1076.93 L688.10,1071.03 Z" fill="#fff" stroke="#111" stroke-width="1"/>
<path d="M714.20,1065.13 L720.10,1071.03 L714.20,1076.93 L708.30,1071.03 Z" fill="#fff" stroke="#111" stroke-width="1"/>
<path d="M590.0999999999999,1089.2 V1093.5" stroke="#333" stroke-width="1.3"/>
<path d="M645.0,1089.2 V1093.5" stroke="#333" stroke-width="1.3"/>
<path d="M694.0,1089.2 V1093.5" stroke="#333" stroke-width="1.3"/>
<path d="M714.2,1089.2 V1093.5" stroke="#333" stroke-width="1.3"/>
<text x="595.10" y="1101.90" font-size="12.1" text-anchor="end" fill="#4d4d4d" transform="rotate(-45 595.10 1101.90)" >TRA2A N+</text>
<text x="650.00" y="1101.90" font-size="12.1" text-anchor="end" fill="#4d4d4d" transform="rotate(-45 650.00 1101.90)" >TRA2A N0</text>
<text x="699.00" y="1101.90" font-size="12.1" text-anchor="end" fill="#4d4d4d" transform="rotate(-45 699.00 1101.90)" >MFI</text>
<text x="719.20" y="1101.90" font-size="12.1" text-anchor="end" fill="#4d4d4d" transform="rotate(-45 719.20 1101.90)" >% of cells</text>
<text x="751.30" y="787.90" font-size="14.2" >MFI</text>
<rect x="751.2" y="795.9" width="23.5" height="117.3" fill="url(#civ)"/>
<path d="M751.2,797.6 h4.5 M774.7,797.6 h-4.5" stroke="#fff" stroke-opacity="0.8" stroke-width="1"/>
<text x="782.30" y="801.80" font-size="12" fill="#1a1a1a" >600</text>
<path d="M751.2,818.3 h4.5 M774.7,818.3 h-4.5" stroke="#fff" stroke-opacity="0.8" stroke-width="1"/>
<text x="782.30" y="822.50" font-size="12" fill="#1a1a1a" >500</text>
<path d="M751.2,839.2 h4.5 M774.7,839.2 h-4.5" stroke="#fff" stroke-opacity="0.8" stroke-width="1"/>
<text x="782.30" y="843.40" font-size="12" fill="#1a1a1a" >400</text>
<path d="M751.2,860 h4.5 M774.7,860 h-4.5" stroke="#fff" stroke-opacity="0.8" stroke-width="1"/>
<text x="782.30" y="864.20" font-size="12" fill="#1a1a1a" >300</text>
<path d="M751.2,880.5 h4.5 M774.7,880.5 h-4.5" stroke="#fff" stroke-opacity="0.8" stroke-width="1"/>
<text x="782.30" y="884.70" font-size="12" fill="#1a1a1a" >200</text>
<path d="M751.2,901.4 h4.5 M774.7,901.4 h-4.5" stroke="#fff" stroke-opacity="0.8" stroke-width="1"/>
<text x="782.30" y="905.60" font-size="12" fill="#1a1a1a" >100</text>
<text x="751.40" y="950.10" font-size="14.7" >% of cells</text>
<circle cx="768.9" cy="975.8" r="14.3" fill="#fff" stroke="#111" stroke-width="1"/>
<text x="794.40" y="979.70" font-size="11.7" fill="#1a1a1a" >60</text>
<circle cx="768.9" cy="1006.1" r="11.4" fill="#fff" stroke="#111" stroke-width="1"/>
<text x="794.40" y="1010.40" font-size="11.7" fill="#1a1a1a" >40</text>
<circle cx="768.9" cy="1030.8" r="7.5" fill="#fff" stroke="#111" stroke-width="1"/>
<text x="794.40" y="1035.10" font-size="11.7" fill="#1a1a1a" >20</text>
<text x="752.00" y="1076.10" font-size="14.7" >N+ vs N0</text>
<path d="M769.90,1091.60 L776.20,1097.90 L769.90,1104.20 L763.60,1097.90 Z" fill="#000" stroke="#111" stroke-width="1"/>
<path d="M769.90,1114.50 L776.20,1120.80 L769.90,1127.10 L763.60,1120.80 Z" fill="#fff" stroke="#111" stroke-width="1"/>
<text x="788.00" y="1101.20" font-size="11.5" fill="#1a1a1a" >p ≤ 0.05</text>
<text x="788.00" y="1124.50" font-size="11.5" fill="#1a1a1a" >p &gt; 0.05</text>
</svg>
</body></html>
